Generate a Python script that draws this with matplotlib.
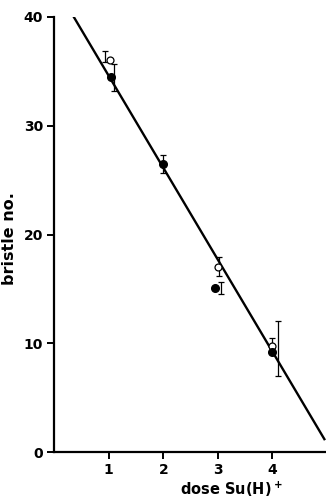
import matplotlib
matplotlib.use("Agg")
import matplotlib.pyplot as plt
import numpy as np

# ---------------------------------------------------------------------------
# Data
# ---------------------------------------------------------------------------
# open circles
open_x = [1.03, 3.0, 4.0]
open_y = [36.0, 17.0, 9.8]
open_err_x = [0.93, 3.02, 4.0]
open_err_lo = [35.9, 16.2, 9.6]
open_err_hi = [36.9, 17.9, 10.5]

# filled circles
fill_x = [1.04, 2.0, 2.95]
fill_y = [34.5, 26.5, 15.1]
fill_err_x = [1.1, 2.0, 3.05]
fill_err_lo = [33.2, 25.7, 14.5]
fill_err_hi = [35.7, 27.3, 15.6]

fill4_x = [4.0]
fill4_y = [9.2]
fill4_err_x = [4.1]
fill4_err_lo = [7.0]
fill4_err_hi = [12.1]

# regression line
line_x = [0.36, 4.95]
line_y = [40.0, 1.2]

x_ticks = [1, 2, 3, 4]
y_ticks = [0, 10, 20, 30, 40]

plt.rcParams.update({
    "font.family": "DejaVu Sans",
    "font.weight": "bold",
    "font.size": 10,
})

fig = plt.figure(figsize=(3.26, 4.98), dpi=100)
ax = fig.add_axes([0.166, 0.092, 0.834, 0.874])

ax.plot(line_x, line_y, color="black", linewidth=1.7, zorder=2)

def draw_err(xs, lo, hi):
    xs = np.array(xs)
    lo = np.array(lo)
    hi = np.array(hi)
    mid = (lo + hi) / 2
    ax.errorbar(xs, mid, yerr=(hi - lo) / 2, fmt="none", ecolor="black",
                elinewidth=0.9, capsize=2.5, capthick=0.9, zorder=3)

draw_err(open_err_x, open_err_lo, open_err_hi)
draw_err(fill_err_x, fill_err_lo, fill_err_hi)
draw_err(fill4_err_x, fill4_err_lo, fill4_err_hi)

ax.plot(open_x, open_y, "o", markerfacecolor="white", markeredgecolor="black",
        markersize=5, markeredgewidth=0.9, zorder=4)
ax.plot(fill_x + fill4_x, fill_y + fill4_y, "o", color="black", markersize=5.5, zorder=4)

ax.set_xlim(0, 4.98)
ax.set_ylim(0, 40)
ax.set_xticks(x_ticks)
ax.set_yticks(y_ticks)
ax.set_xticklabels([str(t) for t in x_ticks], fontweight="bold")
ax.set_yticklabels([str(t) for t in y_ticks], fontweight="bold")

for side in ["top", "right"]:
    ax.spines[side].set_visible(False)
for side in ["left", "bottom"]:
    ax.spines[side].set_linewidth(1.6)
ax.tick_params(direction="out", length=5, width=1.4, pad=3)

ax.set_ylabel("bristle no.", fontweight="bold", fontsize=11.5)
ax.set_xlabel("dose Su(H)$^+$", fontweight="bold", fontsize=10.5)
ax.xaxis.set_label_coords(0.65, -0.063)
ax.yaxis.set_label_coords(-0.135, 0.49)

fig.savefig("out.png", dpi=100)
